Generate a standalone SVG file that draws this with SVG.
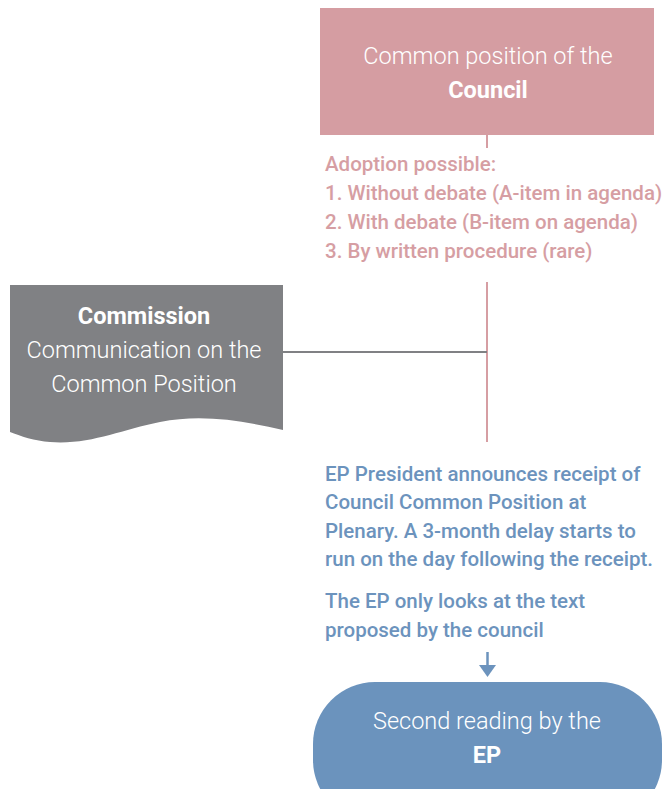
<svg xmlns="http://www.w3.org/2000/svg" width="664" height="789" viewBox="0 0 664 789">
<style>
text{font-family:"Roboto","Liberation Sans",sans-serif}
.w{fill:#ffffff;font-size:23.5px;font-weight:300}
.b{font-weight:bold}
.pk{fill:#d69ea3;font-size:20.5px;font-weight:500}
.bl{fill:#6c93bd;font-size:20.5px;font-weight:500}
</style>
<defs>
<marker id="ah" markerWidth="18" markerHeight="13" refX="0" refY="6.5" orient="auto" markerUnits="userSpaceOnUse">
<path d="M0,0 L12,6.5 L0,13 Z" fill="#6c93bd"/>
</marker>
</defs>
<g id="connectors">
<line x1="487" y1="135" x2="487" y2="148" stroke="#d69ea3" stroke-width="2"/>
<line x1="487" y1="282" x2="487" y2="442" stroke="#d69ea3" stroke-width="2"/>
<line x1="282" y1="352" x2="487" y2="352" stroke="#808184" stroke-width="2"/>
<line x1="487.5" y1="652" x2="487.5" y2="665" stroke="#6c93bd" stroke-width="2.5"/>
<path d="M479,665 L496,665 L487.5,677 Z" fill="#6c93bd"/>
</g>
<g id="council">
<rect x="320" y="8" width="334" height="127" fill="#d59da2"/>
<text class="w" x="488" y="64" text-anchor="middle">Common position of the</text>
<text class="w b" x="488" y="98" text-anchor="middle">Council</text>
</g>
<g id="adoption">
<text class="pk" x="325" y="171">Adoption possible:</text>
<text class="pk" x="325" y="200">1. Without debate (A-item in agenda)</text>
<text class="pk" x="325" y="229">2. With debate (B-item on agenda)</text>
<text class="pk" x="325" y="258">3. By written procedure (rare)</text>
</g>
<g id="commission">
<path d="M10,285 H283 V430 C240,420 200,414 160,422 C120,430 90,445 50,442 C35,441 20,436 10,432 Z" fill="#808184"/>
<text class="w b" x="144" y="324" text-anchor="middle">Commission</text>
<text class="w" x="144" y="358" text-anchor="middle">Communication on the</text>
<text class="w" x="144" y="392" text-anchor="middle">Common Position</text>
</g>
<g id="announce">
<text class="bl" x="325" y="481">EP President announces receipt of</text>
<text class="bl" x="325" y="509">Council Common Position at</text>
<text class="bl" x="325" y="538">Plenary. A 3-month delay starts to</text>
<text class="bl" x="325" y="566">run on the day following the receipt.</text>
<text class="bl" x="325" y="608">The EP only looks at the text</text>
<text class="bl" x="325" y="637">proposed by the council</text>
</g>
<g id="second-reading">
<rect x="313" y="682" width="349" height="140" rx="62" ry="62" fill="#6b93bd"/>
<text class="w" x="487" y="729" text-anchor="middle">Second reading by the</text>
<text class="w b" x="487" y="763" text-anchor="middle">EP</text>
</g>
</svg>
